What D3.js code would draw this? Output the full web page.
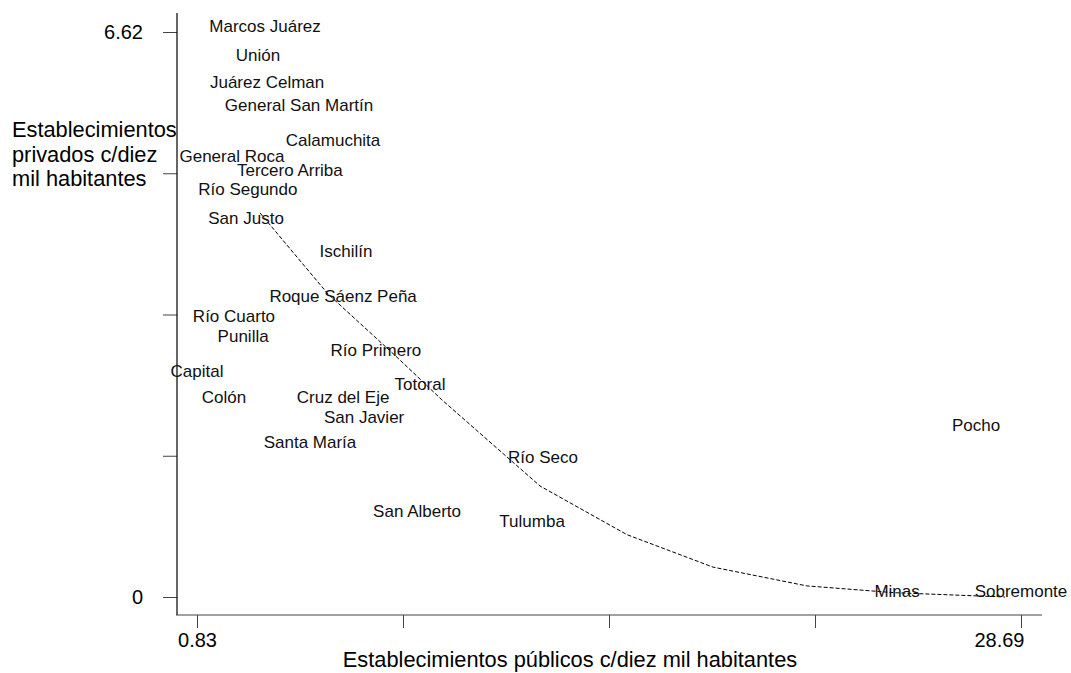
<!DOCTYPE html>
<html>
<head>
<meta charset="utf-8">
<script src="https://cdn.jsdelivr.net/npm/d3@7"></script>
<style>
  body { margin: 0; background: #fff; }
  text { font-family: Arial, "Liberation Sans", sans-serif; }
</style>
</head>
<body>
<svg id="chart" width="1071" height="673"></svg>
<script>
// departamentos (labels drawn at the point, no marker)
const departments = [
  "Marcos Juárez", "Unión", "Juárez Celman", "General San Martín", "Calamuchita",
  "General Roca", "Tercero Arriba", "Río Segundo", "San Justo", "Ischilín",
  "Roque Sáenz Peña", "Río Cuarto", "Punilla", "Río Primero", "Capital",
  "Colón", "Cruz del Eje", "San Javier", "Totoral", "Santa María",
  "Pocho", "Río Seco", "San Alberto", "Tulumba", "Minas", "Sobremonte"
];
const publicos = [
  3.13, 2.89, 3.20, 4.28, 5.43,
  2.01, 3.97, 2.55, 2.49, 5.87,
  5.77, 2.08, 2.39, 6.88, 0.83,
  1.74, 5.77, 6.48, 8.37, 4.65,
  27.17, 12.53, 8.27, 12.16, 24.50, 28.69
];
const privados = [
  6.62, 6.28, 5.96, 5.69, 5.28,
  5.10, 4.93, 4.71, 4.37, 3.98,
  3.46, 3.22, 2.99, 2.82, 2.58,
  2.27, 2.27, 2.04, 2.43, 1.75,
  1.95, 1.57, 0.94, 0.82, 0.00, 0.00
];

// fitted curve (dashed)
const fitX = [2.96, 5.26, 7.59, 9.11, 12.43, 15.37, 18.28, 21.45, 24.43, 28.15];
const fitY = [4.50, 3.55, 2.81, 2.31, 1.30, 0.73, 0.35, 0.13, 0.05, 0.00];

const xTicks = [0.83, 7.795, 14.76, 21.725, 28.69];
const yTicks = [0, 1.655, 3.31, 4.965, 6.62];
const xTickLabels = ["0.83", "", "", "", "28.69"];
const yTickLabels = ["0", "", "", "", "6.62"];

const svg = d3.select("#chart");

const x = d3.scaleLinear().domain([0.83, 28.69]).range([197, 1021]);
const y = d3.scaleLinear().domain([0, 6.62]).range([597, 32]);

const frameLeft = 177, frameBottom = 615;

// axes
const xAxis = svg.append("g")
  .attr("transform", `translate(0,${frameBottom})`)
  .call(d3.axisBottom(x).tickValues(xTicks)
    .tickFormat((d, i) => xTickLabels[i])
    .tickSize(13).tickSizeOuter(0).tickPadding(5));
xAxis.select(".domain").remove();
xAxis.selectAll("line").attr("stroke", "#444");
xAxis.selectAll("text").attr("font-size", 20).attr("fill", "#000")
  .attr("text-anchor", (d, i) => i === xTicks.length - 1 ? "end" : "middle")
  .attr("dx", (d, i) => i === xTicks.length - 1 ? 3 : 0);

const yAxis = svg.append("g")
  .attr("transform", `translate(${frameLeft},0)`)
  .call(d3.axisLeft(y).tickValues(yTicks)
    .tickFormat((d, i) => yTickLabels[i])
    .tickSize(14).tickSizeOuter(0).tickPadding(20));
yAxis.select(".domain").remove();
yAxis.selectAll("line").attr("stroke", "#444");
yAxis.selectAll("text").attr("font-size", 20).attr("fill", "#000");

svg.append("line")
  .attr("x1", frameLeft).attr("x2", frameLeft)
  .attr("y1", 13).attr("y2", frameBottom)
  .attr("stroke", "#000").attr("stroke-width", 1.2);
svg.append("line")
  .attr("x1", frameLeft - 1).attr("x2", 1042)
  .attr("y1", frameBottom).attr("y2", frameBottom)
  .attr("stroke", "#444").attr("stroke-width", 1.2);

// axis titles
svg.append("text")
  .attr("x", 570).attr("y", 667)
  .attr("text-anchor", "middle")
  .attr("font-size", 21.8)
  .text("Establecimientos públicos c/diez mil habitantes");

const yTitle = svg.append("text")
  .attr("x", 12).attr("y", 137)
  .attr("font-size", 21.8);
["Establecimientos", "privados c/diez", "mil habitantes"].forEach((t, i) => {
  yTitle.append("tspan").attr("x", 12).attr("dy", i === 0 ? 0 : 24.5).text(t);
});

// fitted line
const fitPoints = fitX.map((v, i) => [v, fitY[i]]);
svg.append("path")
  .datum(fitPoints)
  .attr("fill", "none")
  .attr("stroke", "#000")
  .attr("stroke-width", 1)
  .attr("stroke-dasharray", "4,2")
  .attr("d", d3.line().x(d => x(d[0])).y(d => y(d[1])));

// department labels
svg.append("g")
  .selectAll("text")
  .data(departments)
  .join("text")
  .attr("x", (d, i) => x(publicos[i]))
  .attr("y", (d, i) => y(privados[i]))
  .attr("text-anchor", "middle")
  .attr("font-size", 17)
  .attr("fill", "#111")
  .text(d => d);
</script>
</body>
</html>
